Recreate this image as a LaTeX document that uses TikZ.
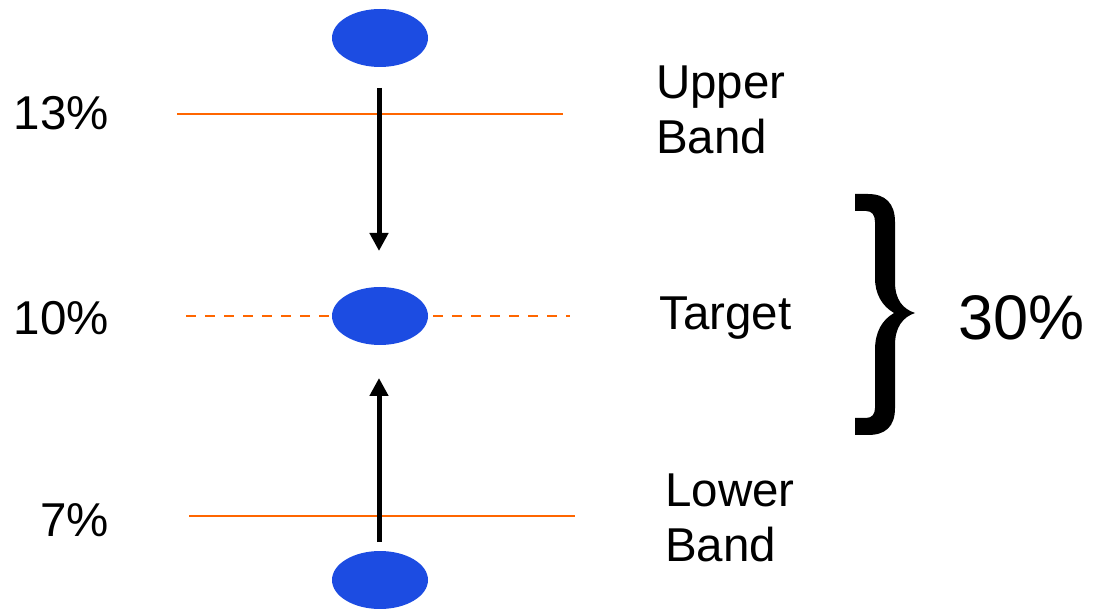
\documentclass[tikz,border=0pt]{standalone}
\usepackage{fontspec}
\setmainfont{Liberation Sans}
\usetikzlibrary{arrows.meta,shapes.geometric}
\definecolor{dotblue}{RGB}{28,76,226}
\definecolor{bandorange}{RGB}{255,102,0}
\begin{document}
\begin{tikzpicture}[x=1pt,y=-1pt,
  dot/.style={ellipse,fill=dotblue,minimum width=96pt,minimum height=58pt,inner sep=0pt},
  bandline/.style={draw=bandorange,line width=2pt},
  moveline/.style={draw=black,line width=5pt,-{Triangle[length=18pt,width=18pt]}},
  lbl/.style={font=\fontsize{47.5}{55}\selectfont,align=left,inner sep=0pt},
  pct/.style={font=\fontsize{47.5}{55}\selectfont,inner sep=0pt,anchor=east}]
\useasboundingbox (0,0) rectangle (1093,609);
% lines
\coordinate (u1) at (177,114); \coordinate (u2) at (563,114);
\coordinate (t1) at (186,316); \coordinate (t2) at (570,316);
\coordinate (l1) at (189,516); \coordinate (l2) at (575,516);
\draw[bandline] (u1) -- (u2);
\draw[bandline,line width=2.5pt,dash pattern=on 10pt off 9pt] (t1) -- (t2);
\draw[bandline] (l1) -- (l2);
% dots
\node[dot] (top) at (380,38) {};
\node[dot] (mid) at (380,316) {};
\node[dot] (bot) at (380,580) {};
% arrows
\coordinate (a1s) at (379,88); \coordinate (a1e) at (379,251);
\coordinate (a2s) at (379,542); \coordinate (a2e) at (379,378);
\draw[moveline] (a1s) -- (a1e);
\draw[moveline] (a2s) -- (a2e);
% labels
\node[pct] (p13) at (109,113) {13\%};
\node[pct] (p10) at (109,318) {10\%};
\node[pct] (p7) at (109,520) {7\%};
\node[lbl,anchor=west] (ub) at (656,110) {Upper\\Band};
\node[lbl,anchor=west] (tg) at (659,318) {Target};
\node[lbl,anchor=west] (lb) at (665,518) {Lower\\Band};
% brace
\fill (855,194) -- (868,194) .. controls (885,194) and (895,203) .. (895,222)
  -- (895,282) .. controls (895,300) and (903,309) .. (915,313)
  .. controls (903,317) and (895,327) .. (895,345)
  -- (895,408) .. controls (895,427) and (885,435) .. (868,435) -- (855,435)
  -- (855,418) -- (866,418) .. controls (872,418) and (875,414) .. (875,408)
  -- (875,350) .. controls (875,332) and (882,320) .. (894,313)
  .. controls (882,306) and (875,294) .. (875,278)
  -- (875,222) .. controls (875,215) and (872,211) .. (866,211) -- (855,211) -- cycle;
\node[font=\fontsize{63}{70}\selectfont,inner sep=0pt,anchor=west] (p30) at (958,318) {30\%};
\end{tikzpicture}
\end{document}
